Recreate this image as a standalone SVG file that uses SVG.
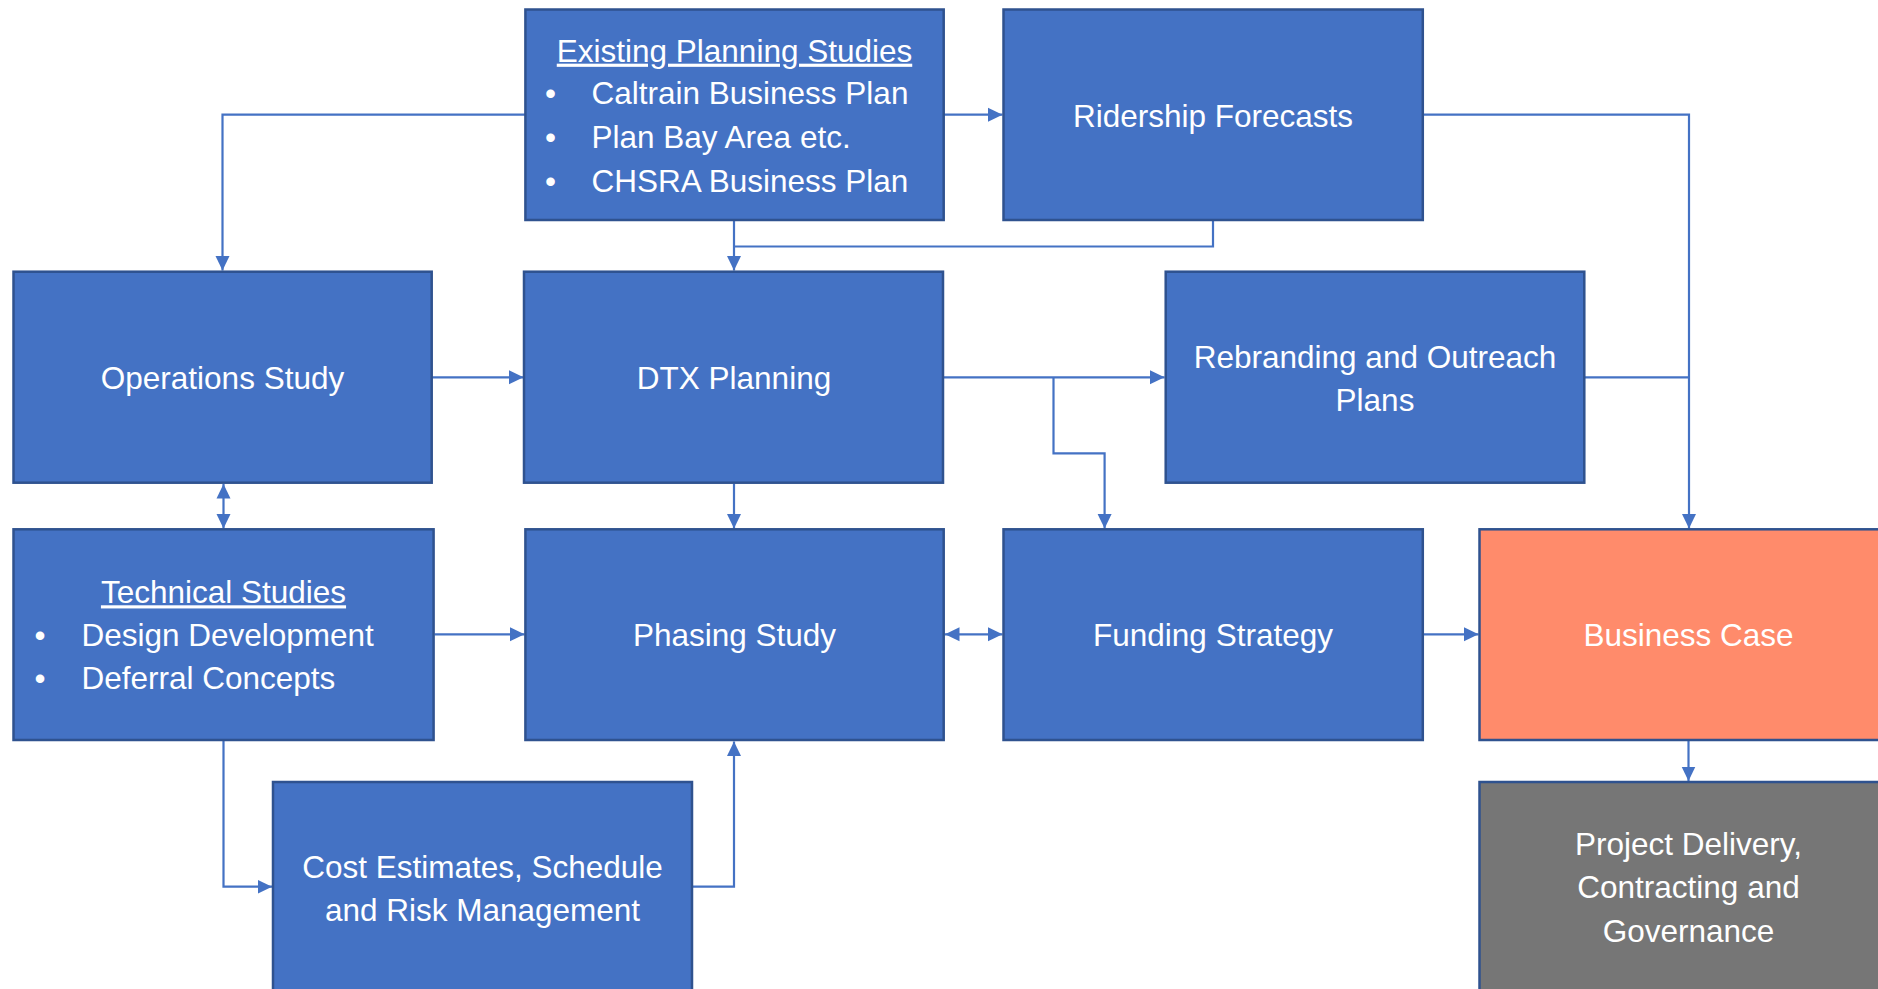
<svg xmlns="http://www.w3.org/2000/svg" width="1878" height="989" viewBox="0 0 1878 989">
<defs>
<marker id="ah" markerUnits="userSpaceOnUse" markerWidth="15" markerHeight="15" viewBox="0 0 15 15" refX="14.5" refY="7.5" orient="auto-start-reverse">
<path d="M0,0.5 L14.5,7.5 L0,14.5 z" fill="#4472C4"/>
</marker>
<style>
.box{fill:#4472C4;stroke:#2F528F;stroke-width:2.5}
.bc{fill:#FF8B6B;stroke:#2F528F;stroke-width:2.5}
.pd{fill:#767676;stroke:#2F528F;stroke-width:2.5}
.t{font-family:"Liberation Sans",Arial,sans-serif;font-size:31.5px;fill:#FFFFFF}
.c{text-anchor:middle}
.u{text-decoration:underline}
.ln{fill:none;stroke:#4472C4;stroke-width:2.2}
.ar{marker-end:url(#ah)}
.ar2{marker-start:url(#ah);marker-end:url(#ah)}
</style>
</defs>
<rect width="1878" height="989" fill="#FFFFFF"/>
<g id="connectors">
<path class="ln ar" d="M525,114.7 H222.5 V270.5"/>
<path class="ln ar" d="M944,114.7 H1002.5"/>
<path class="ln ar" d="M734,220 V270.5"/>
<path class="ln" d="M1213,220 V246.5 H734"/>
<path class="ln ar" d="M1423,114.7 H1689 V528.5"/>
<path class="ln ar" d="M432,377.3 H523.5"/>
<path class="ln ar" d="M943,377.3 H1164.5"/>
<path class="ln ar" d="M1053.5,377.3 V453.3 H1104.6 V528.5"/>
<path class="ln" d="M1584,377.3 H1689"/>
<path class="ln ar2" d="M223.5,484 V528.5"/>
<path class="ln ar" d="M734,483.5 V528.5"/>
<path class="ln ar" d="M434.5,634.3 H524.5"/>
<path class="ln ar2" d="M945,634.3 H1002.5"/>
<path class="ln ar" d="M1424,634.3 H1478.5"/>
<path class="ln ar" d="M1688.5,741 V781"/>
<path class="ln ar" d="M223.5,741 V886.7 H272"/>
<path class="ln ar" d="M693,886.7 H734 V741.5"/>
</g>
<g id="existing">
<rect class="box" x="525.4" y="9.5" width="418.3" height="210.5"/>
<text class="t c u" x="734.5" y="61.7">Existing Planning Studies</text>
<text class="t" x="545" y="104.3">•</text>
<text class="t" x="591.5" y="104.3">Caltrain Business Plan</text>
<text class="t" x="545" y="147.7">•</text>
<text class="t" x="591.5" y="147.7">Plan Bay Area etc.</text>
<text class="t" x="545" y="191.7">•</text>
<text class="t" x="591.5" y="191.7">CHSRA Business Plan</text>
</g>
<g id="ridership">
<rect class="box" x="1003.5" y="9.5" width="419.3" height="210.5"/>
<text class="t c" x="1213" y="126.7">Ridership Forecasts</text>
</g>
<g id="operations">
<rect class="box" x="13.5" y="271.7" width="418.2" height="211"/>
<text class="t c" x="222.5" y="389">Operations Study</text>
</g>
<g id="dtx">
<rect class="box" x="524" y="271.7" width="419" height="211"/>
<text class="t c" x="734" y="389">DTX Planning</text>
</g>
<g id="rebranding">
<rect class="box" x="1165.7" y="271.7" width="418.6" height="211"/>
<text class="t c" x="1375" y="367.5">Rebranding and Outreach</text>
<text class="t c" x="1375" y="410.5">Plans</text>
</g>
<g id="technical">
<rect class="box" x="13.5" y="529.3" width="420.1" height="210.7"/>
<text class="t c u" x="223.5" y="603.3">Technical Studies</text>
<text class="t" x="34.5" y="645.7">•</text>
<text class="t" x="81.4" y="645.7">Design Development</text>
<text class="t" x="34.5" y="689">•</text>
<text class="t" x="81.4" y="689">Deferral Concepts</text>
</g>
<g id="phasing">
<rect class="box" x="525.4" y="529.3" width="418.3" height="210.7"/>
<text class="t c" x="734.5" y="645.7">Phasing Study</text>
</g>
<g id="funding">
<rect class="box" x="1003.5" y="529.3" width="419.3" height="210.7"/>
<text class="t c" x="1213" y="645.7">Funding Strategy</text>
</g>
<g id="business-case">
<rect class="bc" x="1479.5" y="529.3" width="420" height="210.7"/>
<text class="t c" x="1688.5" y="645.7">Business Case</text>
</g>
<g id="cost">
<rect class="box" x="273" y="782" width="419" height="220"/>
<text class="t c" x="482.5" y="877.7">Cost Estimates, Schedule</text>
<text class="t c" x="482.5" y="920.7">and Risk Management</text>
</g>
<g id="project-delivery">
<rect class="pd" x="1479.5" y="782" width="420" height="220"/>
<text class="t c" x="1688.5" y="855">Project Delivery,</text>
<text class="t c" x="1688.5" y="898.3">Contracting and</text>
<text class="t c" x="1688.5" y="942.3">Governance</text>
</g>
</svg>
